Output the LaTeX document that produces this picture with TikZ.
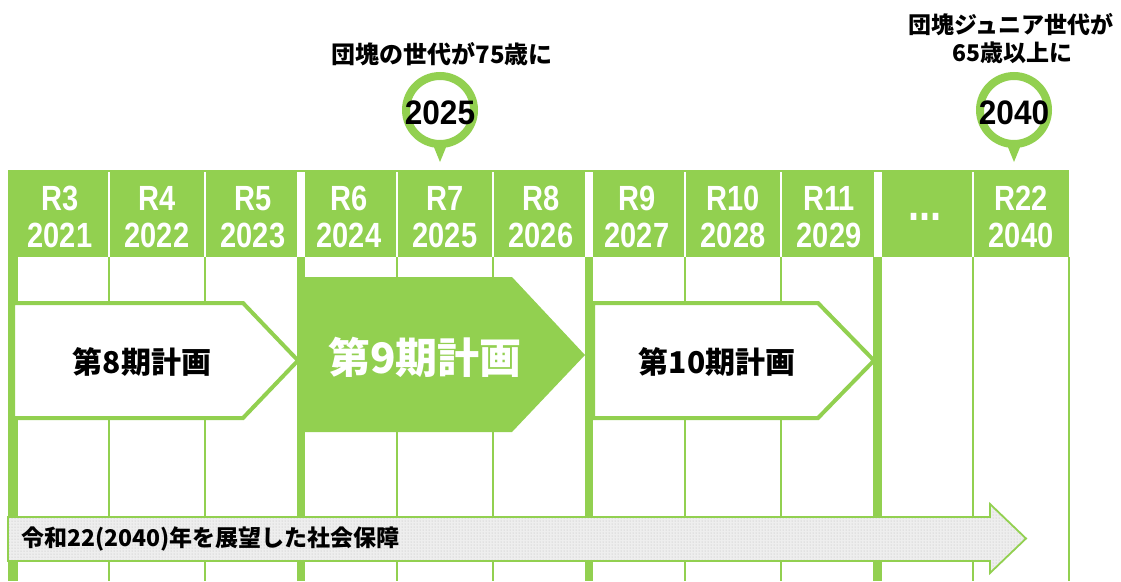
\documentclass[tikz,border=0pt]{standalone}
\usepackage{fontspec}
\usetikzlibrary{patterns}
\setmainfont{Noto Sans CJK JP}
\newfontfamily\jp{Noto Sans CJK JP}
\newfontface\hdr[FakeStretch=0.83]{Liberation Sans Bold}
\newfontface\pinf[FakeStretch=0.93]{Liberation Sans Bold}
\definecolor{grn}{HTML}{92D050}
\definecolor{dotbg}{HTML}{EEEEEE}
\begin{document}
\begin{tikzpicture}[x=1pt,y=-1pt,
  hdrtxt/.style={text=white,font=\hdr\fontsize{35}{35}\selectfont,inner sep=0pt,anchor=base},
  pintxt/.style={text=black,font=\pinf\fontsize{34}{34}\selectfont,inner sep=0pt},
  notetxt/.style={text=black,font=\jp\bfseries\fontsize{23}{23}\selectfont,inner sep=0pt},
  plantxt/.style={font=\jp\bfseries\fontsize{30}{30}\selectfont,inner sep=0pt},
  thinv/.style={grn,line width=2pt},
  thickv/.style={grn,line width=8.5pt},
  planbox/.style={draw=grn,line width=4pt,fill=white,line join=miter},
  ring/.style={draw=grn,line width=8pt},
]
\useasboundingbox (0,0) rectangle (1121,581);
% ---- vertical grid lines below header ----
\foreach \x in {109,205,397,493,685,781,973,1069}
  \draw[thinv] (\x,257) -- (\x,581);
\foreach \x in {301,589,877.5}
  \draw[thickv] (\x,257) -- (\x,581);
\draw[grn,line width=10pt] (13,257) -- (13,581);
% ---- header band ----
\fill[grn] (8,170) rectangle (1069,257);
\foreach \x in {109,205,397,493,685,781,973}
  \draw[white,line width=1.5pt] (\x,172) -- (\x,257);
\foreach \x in {301,589,877.5}
  \draw[white,line width=8pt] (\x,172) -- (\x,257);
% header labels
\foreach \n/\x/\r/\y in {a/60/R3/2021,b/157/R4/2022,c/253/R5/2023,d/349/R6/2024,e/445/R7/2025,f/541/R8/2026,g/637/R9/2027,h/733/R10/2028,i/829/R11/2029,k/1021/R22/2040}{
  \node[hdrtxt] (r\n) at (\x,210) {\r};
  \node[hdrtxt] (y\n) at (\x,247) {\y};
}
\node[hdrtxt,font=\hdr\fontsize{48}{48}\selectfont] (dots) at (925,220) {...};
% ---- plan arrows ----
\draw[planbox] (13,303) -- (243,303) -- (298,360.5) -- (243,418) -- (13,418) -- cycle;
\node[plantxt,text=black] (p8) at (142,362) {第8期計画};
\fill[grn] (297,277) -- (512,277) -- (585,355) -- (512,432) -- (297,432) -- cycle;
\node[plantxt,text=white,font=\jp\bfseries\fontsize{42}{42}\selectfont] (p9) at (425,357) {第9期計画};
\draw[planbox] (593,303) -- (818,303) -- (874,360.5) -- (818,418) -- (593,418) -- cycle;
\node[plantxt,text=black] (p10) at (717,362) {第10期計画};
% ---- long arrow ----
\def\longarrow{(8,517) -- (990,517) -- (990,504) -- (1026,538.5) -- (990,573) -- (990,561) -- (8,561) -- cycle}
\fill[dotbg] \longarrow;
\fill[pattern=dots,pattern color=gray!55] \longarrow;
\draw[grn,line width=1.8pt,line join=miter] \longarrow;
\node[notetxt,anchor=west] (social) at (21,539) {令和22(2040)年を展望した社会保障};
% ---- pins ----
\draw[ring] (440,110) circle (34);
\fill[grn] (431,140) -- (449,140) -- (440,162) -- cycle;
\node[pintxt] (pin1) at (440,113) {2025};
\node[notetxt,font=\jp\bfseries\fontsize{24}{24}\selectfont] (note1) at (442,54) {団塊の世代が75歳に};
\draw[ring] (1014,110) circle (34);
\fill[grn] (1005,140) -- (1023,140) -- (1014,162) -- cycle;
\node[pintxt] (pin2) at (1014,113) {2040};
\node[notetxt] (note2a) at (1011,25) {団塊ジュニア世代が};
\node[notetxt] (note2b) at (1012,53) {65歳以上に};
\end{tikzpicture}
\end{document}
